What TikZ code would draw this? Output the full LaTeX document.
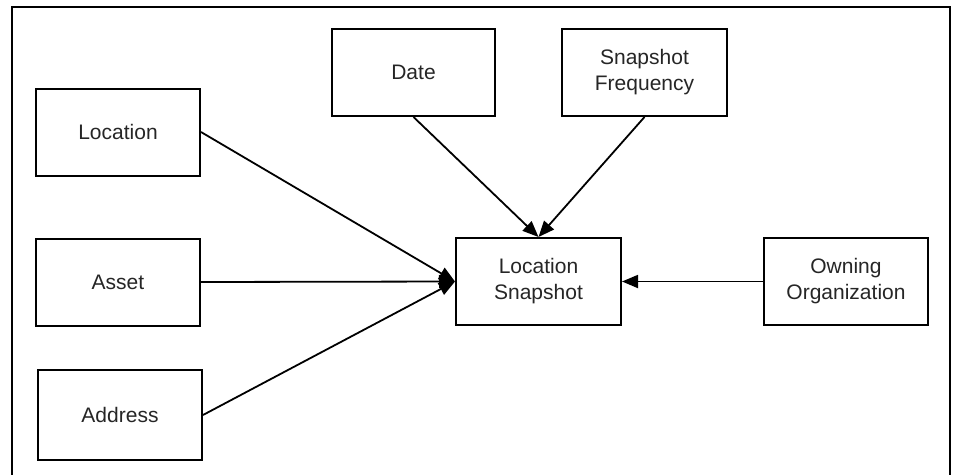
\documentclass[tikz,border=0pt]{standalone}
\usepackage{fontspec}
\setmainfont{Liberation Sans}
\usetikzlibrary{arrows.meta}
\begin{document}
\begin{tikzpicture}[x=1pt,y=-1pt,
  ent/.style={draw=black, line width=2pt, fill=white, minimum width=164pt, minimum height=87pt,
    inner sep=2pt, align=center, font=\fontsize{21}{26}\selectfont, text=black!85},
  conn/.style={line width=1.8pt, -{Triangle[length=16pt,width=13pt]}}]
\useasboundingbox (0,0) rectangle (955,474);
\draw[line width=2pt] (12,476) -- (12,7) -- (950,7) -- (950,476);
\node[ent] (loc) at (118,132) {Location};
\node[ent] (asset) at (118,282) {Asset};
\node[ent, minimum height=90pt] (addr) at (120,415) {Address};
\node[ent, minimum width=163pt] (date) at (413.5,72.5) {Date};
\node[ent, minimum width=165pt] (freq) at (644.5,72.5) {Snapshot\\Frequency};
\node[ent, minimum width=165pt] (ls) at (538.5,281.5) {Location\\Snapshot};
\node[ent] (own) at (846,281.5) {Owning\\Organization};
\draw[conn] (loc.east) -- (ls.west);
\draw[conn] (asset.east) -- (ls.west);
\draw[conn] (addr.east) -- (ls.west);
\draw[conn] (date.south) -- (ls.north);
\draw[conn] (freq.south) -- (ls.north);
\draw[conn] (own.west) -- (ls.east);
\end{tikzpicture}
\end{document}
